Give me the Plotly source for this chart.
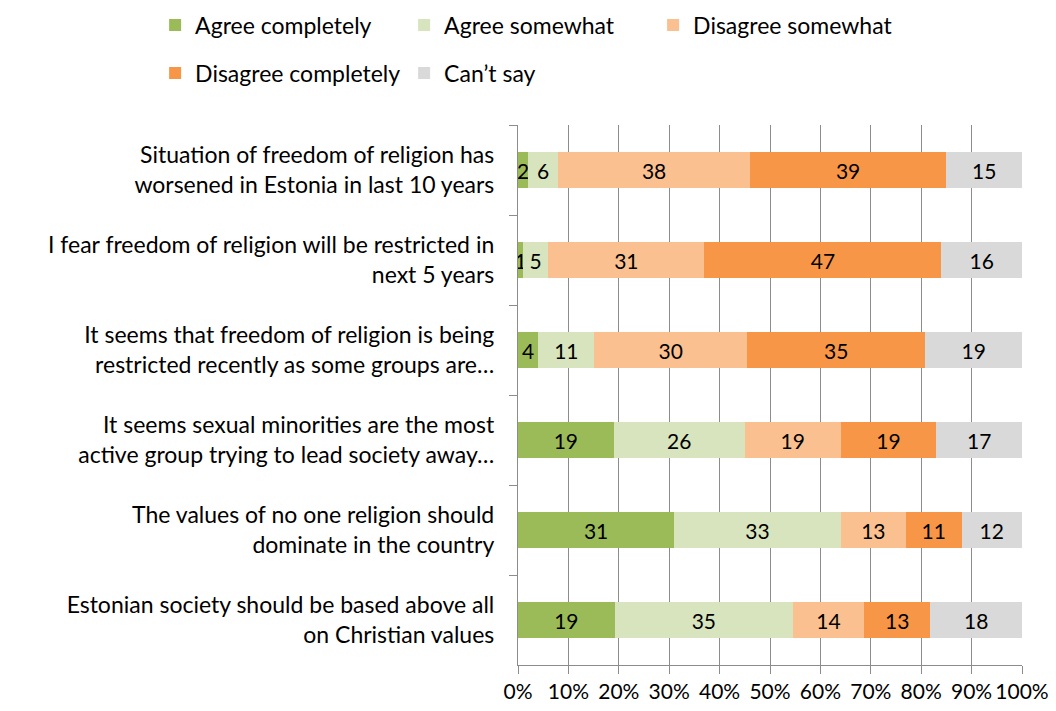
import plotly.graph_objects as go

statements = [
    "Situation of freedom of religion has<br>worsened in Estonia in last 10 years",
    "I fear freedom of religion will be restricted in<br>next 5 years",
    "It seems that freedom of religion is being<br>restricted recently as some groups are…",
    "It seems sexual minorities are the most<br>active group trying to lead society away…",
    "The values of no one religion should<br>dominate in the country",
    "Estonian society should be based above all<br>on Christian values",
]

agree_completely = [2, 1, 4, 19, 31, 19]
agree_somewhat = [6, 5, 11, 26, 33, 35]
disagree_somewhat = [38, 31, 30, 19, 13, 14]
disagree_completely = [39, 47, 35, 19, 11, 13]
cant_say = [15, 16, 19, 17, 12, 18]

# (name, values, colour, legend row)
series = [
    ("Agree completely", agree_completely, "#9BBB59", "legend"),
    ("Agree somewhat", agree_somewhat, "#D7E4BD", "legend"),
    ("Disagree somewhat", disagree_somewhat, "#FAC090", "legend"),
    ("Disagree completely", disagree_completely, "#F79646", "legend2"),
    ("Can’t say", cant_say, "#D9D9D9", "legend2"),
]

x_ticks = [0, 10, 20, 30, 40, 50, 60, 70, 80, 90, 100]
x_tick_labels = [f"{t}%" for t in x_ticks]

FONT = "Lato, Liberation Sans, sans-serif"
GRID = "#8C8C8C"

fig = go.Figure()
for name, vals, color, leg in series:
    fig.add_trace(go.Bar(
        name=name,
        y=statements,
        x=vals,
        orientation="h",
        legend=leg,
        marker=dict(color=color, line=dict(width=0)),
        text=[str(v) for v in vals],
        textposition="inside",
        insidetextanchor="middle",
        textfont=dict(size=21, color="#000000", family=FONT),
        constraintext="none",
        hoverinfo="x+name",
    ))

legend_style = dict(
    orientation="h",
    x=-0.72,
    xanchor="left",
    yanchor="top",
    entrywidth=204,
    entrywidthmode="pixels",
    font=dict(size=23, family=FONT, color="#000000"),
    itemwidth=30,
    traceorder="normal",
)

fig.update_layout(
    barmode="stack",
    barnorm="percent",
    bargap=0.6,
    width=1056,
    height=711,
    margin=dict(l=518, r=34, t=125, b=46, autoexpand=False),
    paper_bgcolor="white",
    plot_bgcolor="white",
    font=dict(family=FONT, size=21, color="#000000"),
    uniformtext=dict(minsize=20, mode="show"),
    legend=dict(legend_style, y=1.225),
    legend2=dict(legend_style, y=1.136),
    showlegend=True,
)

fig.update_xaxes(
    range=[0, 100],
    tickvals=x_ticks,
    ticktext=x_tick_labels,
    showgrid=True,
    gridcolor=GRID,
    gridwidth=1.3,
    showline=True,
    linecolor=GRID,
    linewidth=1.3,
    ticks="outside",
    ticklen=8,
    tickcolor=GRID,
    tickfont=dict(size=21, family=FONT),
    zeroline=False,
    fixedrange=True,
)
fig.update_yaxes(
    autorange="reversed",
    showline=True,
    linecolor=GRID,
    linewidth=1.3,
    ticks="outside",
    tickson="boundaries",
    ticklen=8,
    tickcolor=GRID,
    tickfont=dict(size=23, family=FONT),
    ticklabelstandoff=18,
    showgrid=False,
    fixedrange=True,
)

fig.write_html("out.html")
